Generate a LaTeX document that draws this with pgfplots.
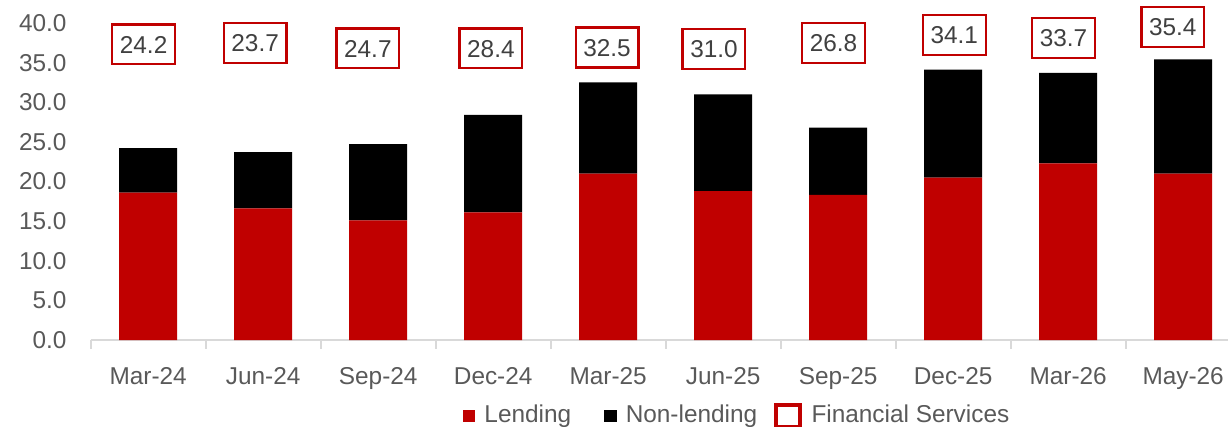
\documentclass[border=0pt]{standalone}
\usepackage{fontspec}
\setmainfont{Liberation Sans}
\usepackage{pgfplots}
\usepackage{pgfplotstable}
\pgfplotsset{compat=1.18}

\definecolor{cRed}{HTML}{C00000}
\definecolor{cTick}{HTML}{595959}
\definecolor{cLab}{HTML}{404040}
\definecolor{cAxis}{HTML}{D9D9D9}

\newcommand{\fs}{\fontsize{9.6}{11.5}\selectfont}

% lending + non-lending per period (x = category index)
\pgfplotstableread{
x lend nonlend
0 18.6 5.6
1 16.6 7.1
2 15.1 9.6
3 16.1 12.3
4 21.0 11.5
5 18.8 12.2
6 18.3 8.5
7 20.5 13.6
8 22.3 11.4
9 21.0 14.4
}\bars

% total labels (boxes) and where they sit
\pgfplotstableread{
x y lab
-0.04 37.3 24.2
0.93 37.5 23.7
1.91 36.8 24.7
2.98 36.8 28.4
3.99 36.9 32.5
4.92 36.7 31.0
5.96 37.5 26.8
7.01 38.5 34.1
7.96 38.1 33.7
8.91 39.5 35.4
}\totals

\begin{document}
\begin{tikzpicture}
\pgfplotsset{
  base/.style={
    at={(0,0)}, anchor=south west, scale only axis,
    width=15.745cm, height=4.389cm,
    xmin=-0.5, xmax=9.39, ymin=0, ymax=40,
    enlargelimits=false, clip=false,
  }
}
\begin{axis}[base,
  ybar stacked, bar width=0.504,
  axis x line=bottom, axis y line=left,
  x axis line style={-, draw=cAxis, line width=0.8pt},
  y axis line style={draw=none},
  xtick={0,...,9},
  xticklabels={Mar-24,Jun-24,Sep-24,Dec-24,Mar-25,Jun-25,Sep-25,Dec-25,Mar-26,May-26},
  minor xtick={-0.5,0.5,...,8.5},
  major tick length=0pt, minor tick length=3.5pt, tick align=outside,
  every tick/.style={cAxis, line width=0.8pt},
  ytick={0,5,...,40},
  /pgf/number format/assume math mode=true,
  yticklabel style={/pgf/number format/fixed, /pgf/number format/fixed zerofill,
    /pgf/number format/precision=1, xshift=-6pt},
  xticklabel style={yshift=-7.4pt},
  ticklabel style={font=\fs, text=cTick},
  legend style={at={(0.5696,0)}, anchor=center, yshift=-1.05cm,
    draw=none, fill=none, font=\fs, text=cTick,
    /tikz/every even column/.append style={column sep=4.7pt}},
  legend columns=3,
  legend cell align=left,
]
\addplot[fill=cRed, draw=none,
  legend image code/.code={\fill[cRed] (0pt,-2.5pt) rectangle (5pt,2.5pt);
    \path[draw=none, fill=none] (0pt,0pt) -- (6.6pt,0pt);}]
  table[x=x, y=lend]{\bars};
\addlegendentry{Lending}
\addplot[fill=black, draw=none,
  legend image code/.code={\fill[black] (0pt,-2.5pt) rectangle (5pt,2.5pt);
    \path[draw=none, fill=none] (-6.2pt,0pt) -- (6.6pt,0pt);}]
  table[x=x, y=nonlend]{\bars};
\addlegendentry{Non-lending}
\addlegendimage{legend image code/.code={\draw[cRed, line width=1.4pt] (0pt,-4.2pt) rectangle (9.4pt,4.2pt);
    \path[draw=none, fill=none] (0pt,0pt) -- (12pt,0pt);}}
\addlegendentry{Financial Services}
\end{axis}

\begin{axis}[base, hide axis]
\addplot[draw=none, mark=none, point meta=explicit symbolic,
  nodes near coords,
  every node near coord/.append style={anchor=center, draw=cRed, line width=0.9pt,
    fill=white, text=cLab, font=\fs, minimum width=24.7pt, minimum height=15.7pt,
    inner sep=0pt, text height=6.9pt, text depth=0pt}]
  table[x=x, y=y, meta=lab]{\totals};
\end{axis}

\pgfresetboundingbox
\useasboundingbox (-1.2557cm,-1.1906cm) rectangle (15.745cm,4.707cm);
\end{tikzpicture}
\end{document}
